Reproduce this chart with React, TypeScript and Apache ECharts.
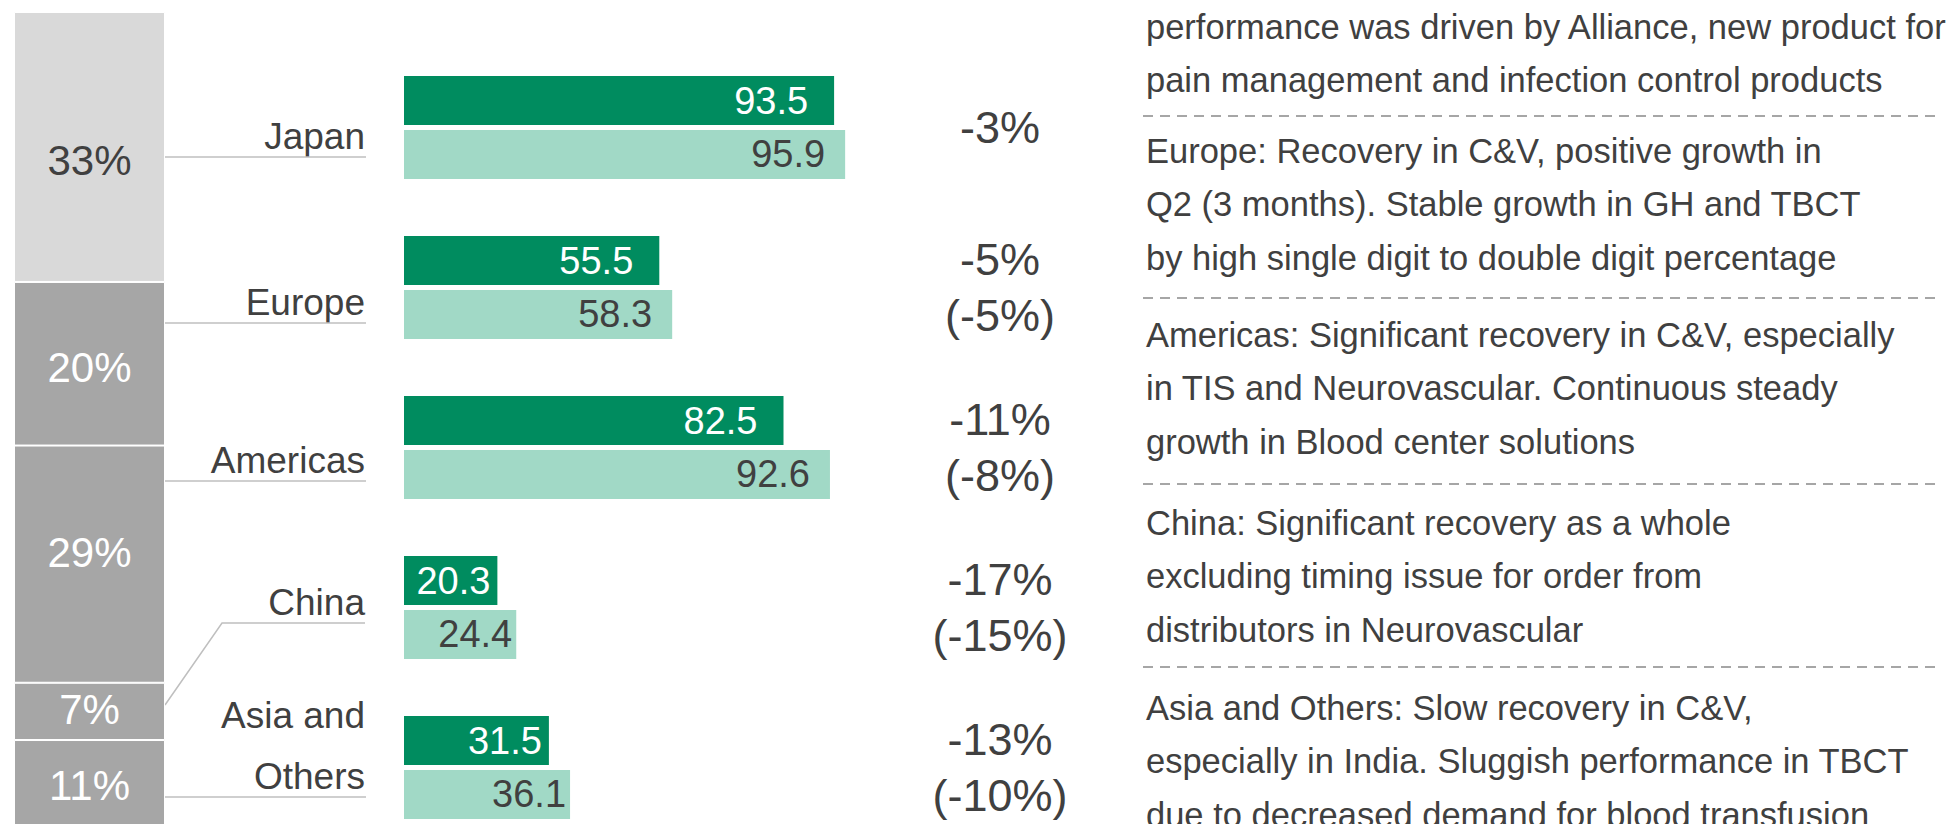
import React, { useEffect, useRef } from "react";
import * as echarts from "echarts";

// ---- data ----
const regions = ["Japan", "Europe", "Americas", "China", "Asia and Others"];
const currentValues = [93.5, 55.5, 82.5, 20.3, 31.5];
const priorValues = [95.9, 58.3, 92.6, 24.4, 36.1];
const growthLabels = ["-3%", "-5%\n(-5%)", "-11%\n(-8%)", "-17%\n(-15%)", "-13%\n(-10%)"];
const shareValues = [33, 20, 29, 7, 11];
const calloutLabels = ["Japan", "Europe", "Americas", "China", "Asia and\nOthers"];
const commentBlocks = [
  ["performance was driven by Alliance, new product for", "pain management and infection control products"],
  ["Europe: Recovery in C&V, positive growth in", "Q2 (3 months). Stable growth in GH and TBCT", "by high single digit to double digit percentage"],
  ["Americas: Significant recovery in C&V, especially", "in TIS and Neurovascular. Continuous steady", "growth in Blood center solutions"],
  ["China: Significant recovery as a whole", "excluding timing issue for order from", "distributors in Neurovascular"],
  ["Asia and Others: Slow recovery in C&V,", "especially in India. Sluggish performance in TBCT", "due to decreased demand for blood transfusion"],
];

// ---- layout (annotation positions) ----
const calloutLineY = [157, 323, 481, 623, 797];
const commentFirstBaseline = [39, 163, 347, 535, 720];
const separatorY = [116, 298, 484, 667];
const shareLabelShift = [14, 4, -12, -2, 0];

const FONT = "'Liberation Sans', Arial, sans-serif";
const TEXT = "#404040";
const DARK = "#008c5f";
const LIGHT = "#a1d9c6";

export default function App() {
  const ref = useRef<HTMLDivElement>(null);
  useEffect(() => {
    const chart = echarts.init(ref.current!, undefined, { renderer: "svg" });
    const K = 0.35;
    const graphics: any[] = [];

    // callout labels and leader lines
    calloutLabels.forEach((lab, i) => {
      const ly = calloutLineY[i];
      const lines = lab.split("\n");
      const F = 37;
      lines.forEach((t, j) => {
        const baseline = ly - 8 - (lines.length - 1 - j) * 61;
        graphics.push({
          type: "text",
          x: 365,
          y: baseline - K * F,
          style: { text: t, font: `${F}px ${FONT}`, fill: TEXT, textAlign: "right", textVerticalAlign: "middle" },
        });
      });
      if (i === 3) {
        graphics.push({ type: "polyline", shape: { points: [[165, 705], [222, 623], [365, 623]] }, style: { stroke: "#bfbfbf", lineWidth: 1.5, fill: null } });
      } else {
        graphics.push({ type: "line", shape: { x1: 163, y1: ly, x2: 366, y2: ly }, style: { stroke: "#bfbfbf", lineWidth: 1.5 } });
      }
    });

    // comment blocks
    const CF = 34.5;
    commentBlocks.forEach((blk, i) => {
      blk.forEach((t, j) => {
        const baseline = commentFirstBaseline[i] + j * 53.3;
        graphics.push({
          type: "text",
          x: 1146,
          y: baseline - K * CF,
          style: { text: t, font: `${CF}px ${FONT}`, fill: TEXT, textAlign: "left", textVerticalAlign: "middle" },
        });
      });
    });
    separatorY.forEach((y) => {
      graphics.push({ type: "line", shape: { x1: 1143, y1: y, x2: 1938, y2: y }, style: { stroke: "#a6a6a6", lineWidth: 2, lineDash: [10, 7] } });
    });

    const shareSeries = regions.map((r, i) => ({
      type: "bar",
      name: r,
      stack: "share",
      xAxisIndex: 1,
      yAxisIndex: 2,
      barWidth: "100%",
      data: [shareValues[i]],
      itemStyle: { color: i === 0 ? "#d9d9d9" : "#a6a6a6", borderColor: "#ffffff", borderWidth: 1 },
      label: {
        show: true,
        position: "inside",
        offset: [0, shareLabelShift[i]],
        formatter: "{c}%",
        fontSize: 42,
        fontFamily: FONT,
        color: i === 0 ? TEXT : "#ffffff",
      },
    }));

    chart.setOption({
      animation: false,
      textStyle: { fontFamily: FONT },
      grid: [
        { left: 404, top: 47.5, width: 460, height: 800 },
        { left: 14, top: 12, width: 151, height: 818 },
      ],
      xAxis: [
        { gridIndex: 0, type: "value", min: 0, max: 100, show: false },
        { gridIndex: 1, type: "category", data: [""], show: false },
      ],
      yAxis: [
        { gridIndex: 0, type: "category", data: regions, inverse: true, show: false },
        {
          gridIndex: 0,
          type: "category",
          data: growthLabels,
          inverse: true,
          position: "right",
          axisLine: { show: false },
          axisTick: { show: false },
          splitLine: { show: false },
          axisLabel: { margin: 136, align: "center", fontSize: 45, lineHeight: 56, color: TEXT, fontFamily: FONT, padding: [0, 0, 6, 0] },
        },
        { gridIndex: 1, type: "value", min: 0, max: 100, inverse: true, show: false },
      ],
      series: [
        {
          type: "bar",
          name: "current",
          xAxisIndex: 0,
          yAxisIndex: 0,
          barWidth: 49,
          barGap: "10%",
          data: currentValues.map((v) => ({ value: v, label: { distance: v > 40 ? 26 : 7 } })),
          itemStyle: { color: DARK },
          label: { show: true, position: "insideRight", color: "#ffffff", fontSize: 38, fontFamily: FONT, formatter: (p: any) => Number(p.value).toFixed(1) },
        },
        {
          type: "bar",
          name: "prior",
          xAxisIndex: 0,
          yAxisIndex: 0,
          barWidth: 49,
          barGap: "10%",
          data: priorValues.map((v) => ({ value: v, label: { distance: v > 40 ? 20 : 4 } })),
          itemStyle: { color: LIGHT },
          label: { show: true, position: "insideRight", color: TEXT, fontSize: 38, fontFamily: FONT, formatter: (p: any) => Number(p.value).toFixed(1) },
        },
        ...shareSeries,
      ],
      graphic: graphics,
    });
    return () => chart.dispose();
  }, []);
  return (
    <div style={{ position: "fixed", left: 0, top: 0, width: 1954, height: 824, overflow: "hidden", background: "#fff" }}>
      <div ref={ref} style={{ width: 1954, height: 900 }} />
    </div>
  );
}
